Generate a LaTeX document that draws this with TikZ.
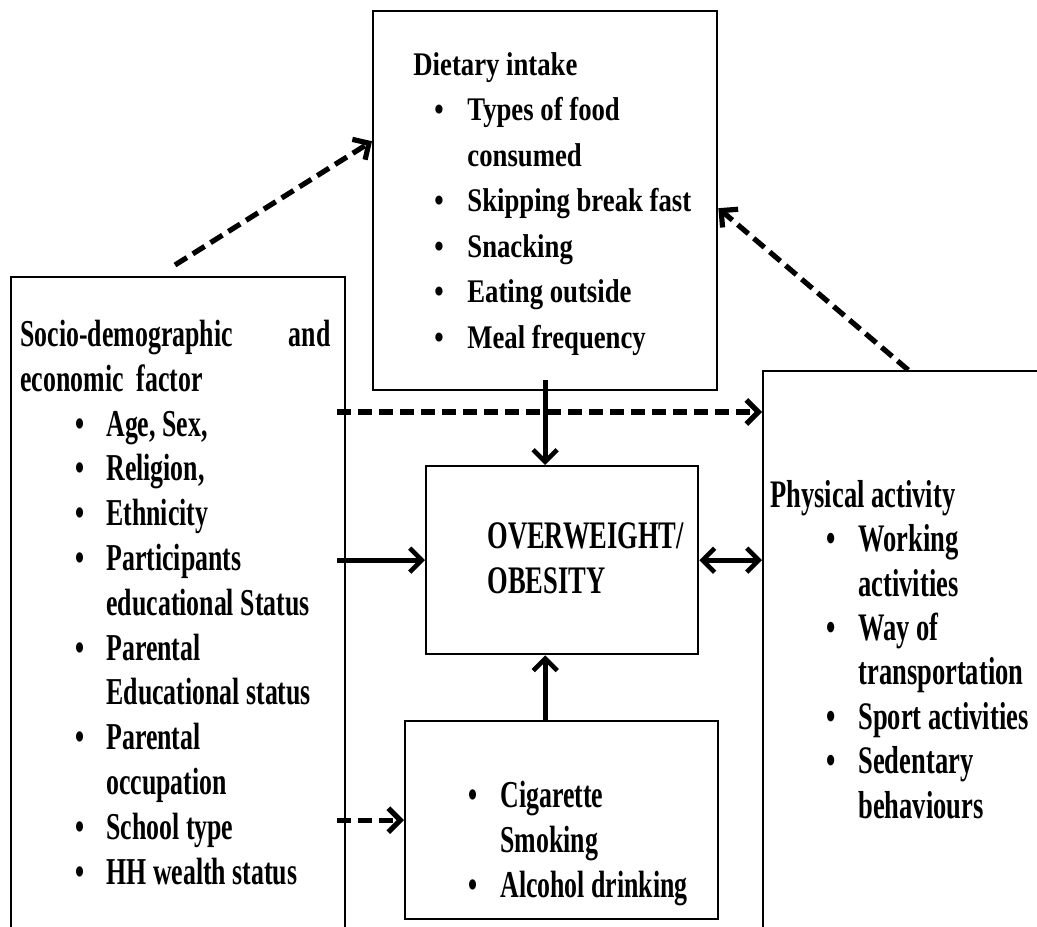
\documentclass[tikz,border=0pt]{standalone}
\usepackage{fontspec}
\setmainfont{Liberation Serif}
\newfontfamily\socfont[FakeStretch=0.68]{Liberation Serif}
\newfontfamily\dietfont[FakeStretch=0.81]{Liberation Serif}
\usetikzlibrary{arrows.meta}
\newlength\bulx
\newlength\txtx
\newcommand\itm{\hspace*{\bulx}\makebox[\dimexpr\txtx-\bulx\relax][l]{\textbullet}}
\newcommand\cnt{\hspace*{\txtx}}

\begin{document}
\begin{tikzpicture}[x=0.5pt, y=-0.5pt,
    box/.style={draw, line width=1.2pt, anchor=north west, inner sep=0pt},
    txt/.style={anchor=base west, inner sep=0pt, align=left},
    arr/.style={line width=2.3pt, -{Straight Barb[length=6pt,width=12pt]}},
    dasharr/.style={arr, line width=2.6pt, dash pattern=on 7pt off 3.5pt},
    dblarr/.style={line width=2.3pt, {Straight Barb[length=6pt,width=12pt]}-{Straight Barb[length=6pt,width=12pt]}}]
\useasboundingbox (0,0) rectangle (1037,926);
\node[box, minimum width=167pt, minimum height=332pt] (socio) at (10,276) {};
\node[box, minimum width=172pt, minimum height=189.5pt] (diet) at (372,10) {};
\node[box, minimum width=145pt, minimum height=285pt] (phys) at (762,370) {};
\node[box, minimum width=136pt, minimum height=94pt] (obes) at (425,465) {};
\node[box, minimum width=156.5pt, minimum height=99pt] (smoke) at (404,720) {};

\node[txt, font={\socfont\bfseries\fontsize{19}{22.4}\selectfont\setlength\bulx{27.5pt}\setlength\txtx{43pt}}] (soctxt) at (20,884)
  {\makebox[155pt][l]{Socio-demographic\hfill and}\\
   economic\ \ factor\\
   \itm Age, Sex,\\
   \itm Religion,\\
   \itm Ethnicity\\
   \itm Participants\\
   \cnt educational Status\\
   \itm Parental\\
   \cnt Educational status\\
   \itm Parental\\
   \cnt occupation\\
   \itm School type\\
   \itm HH wealth status};
\node[txt, font={\dietfont\bfseries\fontsize{16.5}{22.75}\selectfont\setlength\bulx{10.5pt}\setlength\txtx{27pt}}] (diettxt) at (413,348)
  {Dietary intake\\
   \itm Types of food\\
   \cnt consumed\\
   \itm Skipping break fast\\
   \itm Snacking\\
   \itm Eating outside\\
   \itm Meal frequency};
\node[txt, font={\socfont\bfseries\fontsize{19.5}{22.2}\selectfont\setlength\bulx{28pt}\setlength\txtx{44pt}}] (phystxt) at (770,818)
  {Physical activity\\
   \itm Working\\
   \cnt activities\\
   \itm Way of\\
   \cnt transportation\\
   \itm Sport activities\\
   \itm Sedentary\\
   \cnt behaviours};
\node[txt, font={\socfont\bfseries\fontsize{19.5}{22.5}\selectfont}] (obestxt) at (487,593)
  {OVERWEIGHT/\\OBESITY};
\node[txt, font={\socfont\bfseries\fontsize{19}{22.5}\selectfont\setlength\bulx{0pt}\setlength\txtx{16pt}}] (smoketxt) at (468,897)
  {\itm Cigarette\\
   \cnt Smoking\\
   \itm Alcohol drinking};

\coordinate (sdfrom) at (175,265);
\coordinate (pin) at ([yshift=-21pt]phys.north west);
\draw[dasharr] (sdfrom) -- ([yshift=29.75pt]diet.west);
\draw[dasharr] (phys.north) -- ([yshift=-3.75pt]diet.east);
\draw[dasharr] ([xshift=-4.5pt]socio.east |- pin) -- (pin);
\draw[arr] ([yshift=5.5pt]diet.south) -- (diet.south |- obes.north);
\draw[arr] ([xshift=-4.5pt]socio.east |- obes.west) -- (obes.west);
\draw[dblarr] (obes.east) -- (obes.east -| phys.west);
\draw[arr] (diet.south |- smoke.north) -- (diet.south |- obes.south);
\draw[dasharr] ([xshift=-4.5pt]socio.east |- smoke.west) -- (smoke.west);
\end{tikzpicture}
\end{document}
